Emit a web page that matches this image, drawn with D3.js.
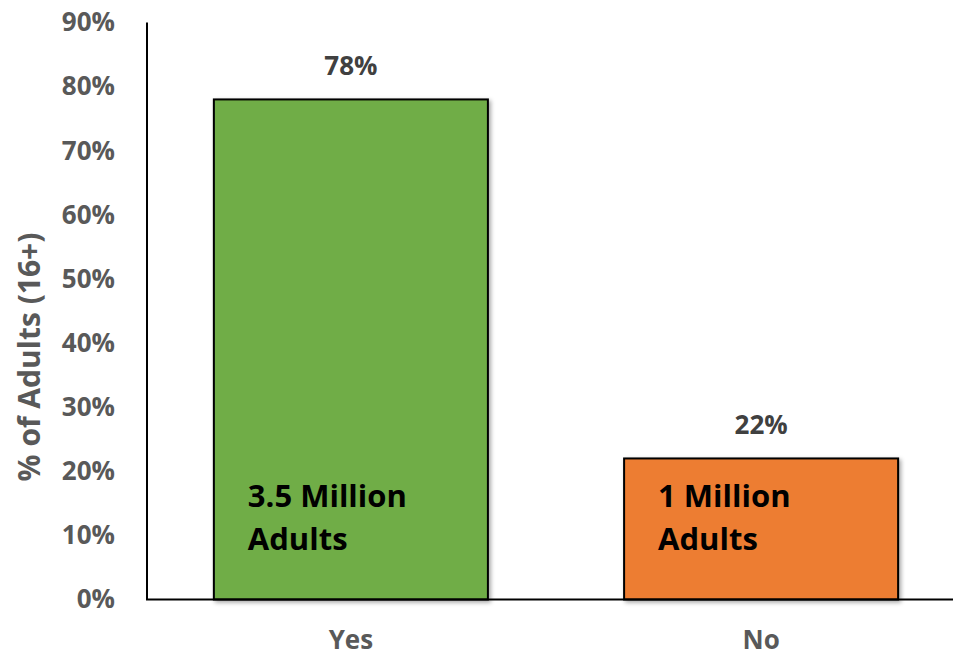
<!DOCTYPE html>
<html>
<head>
<meta charset="utf-8">
<script src="https://cdn.jsdelivr.net/npm/d3@7"></script>
<style>
  body { margin: 0; background: #fff; }
  text { font-family: "Open Sans", Lato, sans-serif; font-weight: bold; }
</style>
</head>
<body>
<svg id="chart" width="955" height="656"></svg>
<script>
const categories = ["Yes", "No"];
const values = [0.78, 0.22];
const innerLabels = [["3.5 Million", "Adults"], ["1 Million", "Adults"]];
const colors = ["#70AD47", "#ED7D31"];
const yTicks = [0, 0.1, 0.2, 0.3, 0.4, 0.5, 0.6, 0.7, 0.8, 0.9];

const margin = {top: 22.5, right: 2, bottom: 56.5, left: 147};
const width = 955 - margin.left - margin.right;
const height = 656 - margin.top - margin.bottom;

const svg = d3.select("#chart");

const defs = svg.append("defs");
const filter = defs.append("filter").attr("id", "shadow")
    .attr("x", "-10%").attr("y", "-10%").attr("width", "130%").attr("height", "130%");
filter.append("feDropShadow")
    .attr("dx", 2).attr("dy", 2).attr("stdDeviation", 2)
    .attr("flood-color", "#000").attr("flood-opacity", 0.35);

const g = svg.append("g")
    .attr("transform", "translate(" + margin.left + "," + margin.top + ")");

const x = d3.scaleBand()
    .domain(categories)
    .range([0, 818])
    .paddingInner(0.332)
    .paddingOuter(0.163);

const y = d3.scaleLinear()
    .domain([0, 0.9])
    .range([height, 0]);

// y axis labels
const yAxis = g.append("g")
    .call(d3.axisLeft(y).tickValues(yTicks).tickFormat(d3.format(".0%")).tickSize(0).tickPadding(32));
yAxis.select(".domain").remove();
yAxis.selectAll("text")
    .attr("fill", "#595959")
    .style("font-size", "26px");

// bars
const bars = g.selectAll("g.bar")
    .data(categories)
    .enter().append("g")
    .attr("class", "bar");

bars.append("rect")
    .attr("x", d => x(d))
    .attr("y", (d, i) => y(values[i]))
    .attr("width", x.bandwidth())
    .attr("height", (d, i) => height - y(values[i]))
    .attr("fill", (d, i) => colors[i])
    .attr("stroke", "#000")
    .attr("stroke-width", 2)
    .attr("filter", "url(#shadow)");

// value labels
bars.append("text")
    .attr("x", d => x(d) + x.bandwidth() / 2)
    .attr("y", (d, i) => y(values[i]) - 24)
    .attr("text-anchor", "middle")
    .attr("fill", "#404040")
    .style("font-size", "26px")
    .text((d, i) => Math.round(values[i] * 100) + "%");

// inner labels
bars.each(function (d, i) {
    const t = d3.select(this).append("text")
        .attr("fill", "#000")
        .style("font-size", "31px");
    innerLabels[i].forEach((line, j) => {
        t.append("tspan")
            .attr("x", x(d) + 34)
            .attr("y", y(0.145) + j * 43)
            .text(line);
    });
});

// axis lines
g.append("line")
    .attr("x1", 0).attr("x2", 0)
    .attr("y1", 0).attr("y2", height)
    .attr("stroke", "#000").attr("stroke-width", 2);

const xAxis = g.append("g")
    .attr("transform", "translate(0," + height + ")")
    .call(d3.axisBottom(x).tickSize(0).tickPadding(31));
xAxis.select(".domain").remove();
xAxis.selectAll("text")
    .attr("fill", "#595959")
    .style("font-size", "26px");

g.append("line")
    .attr("x1", -1).attr("x2", width)
    .attr("y1", height).attr("y2", height)
    .attr("stroke", "#000").attr("stroke-width", 2);

// y title
svg.append("text")
    .attr("transform", "translate(40,357) rotate(-90)")
    .attr("text-anchor", "middle")
    .attr("fill", "#595959")
    .style("font-size", "30px")
    .text("% of Adults (16+)");
</script>
</body>
</html>
